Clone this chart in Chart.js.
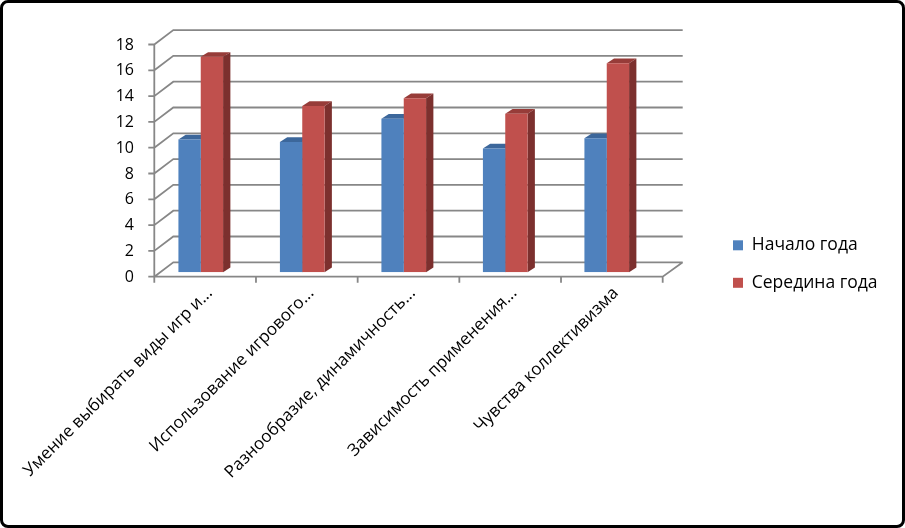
<!DOCTYPE html>
<html>
<head>
<meta charset="utf-8">
<title>Начало и середина года</title>
<script src="https://cdn.jsdelivr.net/npm/chart.js"></script>
<style>
    body { margin: 0; background: #fff; }
    #wrap { position: relative; width: 905px; height: 528px; }
    #chart { position: absolute; left: 0; top: 0; }
    #frame {
        position: absolute; left: 0; top: 0; width: 905px; height: 528px;
        box-sizing: border-box; border: 3px solid #000; border-radius: 8px;
        pointer-events: none;
    }
</style>
</head>
<body>
<div id="wrap">
    <canvas id="chart" width="905" height="528"></canvas>
    <div id="frame"></div>
</div>

<script>
    // данные
    const categories = [
        'Умение выбирать виды игр и...',
        'Использование игрового...',
        'Разнообразие, динамичность...',
        'Зависимость применения...',
        'Чувства коллективизма'
    ];
    const seriesNames = ['Начало года', 'Середина года'];
    const startYear = [10.3, 10.1, 11.9, 9.6, 10.4];
    const midYear = [16.7, 12.9, 13.5, 12.3, 16.2];
    const yTicks = [0, 2, 4, 6, 8, 10, 12, 14, 16, 18];

    Chart.defaults.font.family = "'Open Sans', sans-serif";
    Chart.defaults.color = '#000';

    // псевдо-3D: стены, сетка и грани столбиков
    const fake3d = {
        id: 'fake3d',
        beforeInit(chart) {
            const fit = chart.legend.fit;
            chart.legend.fit = function () {
                fit.call(this);
                this.width = 192;
            };
        },
        beforeDatasetsDraw(chart) {
            const ctx = chart.ctx;
            const a = chart.chartArea;
            const y = chart.scales.y;
            const fl = a.left + 4.3, fr = a.right + 5.2;
            const bl = fl + 19, br = fr + 20;
            const fy = v => y.getPixelForValue(v) + 4.4;
            const by = v => y.getPixelForValue(v) - 10;

            ctx.save();
            ctx.strokeStyle = '#878787';
            ctx.lineWidth = 1.8;
            ctx.beginPath();
            yTicks.forEach(v => {
                ctx.moveTo(fl, fy(v));
                ctx.lineTo(bl, by(v));
                ctx.lineTo(br, by(v));
                ctx.moveTo(fl - 6, fy(v));
                ctx.lineTo(fl, fy(v));
            });
            ctx.moveTo(fl, fy(yTicks[yTicks.length - 1]));
            ctx.lineTo(fl, fy(0));
            ctx.lineTo(fr, fy(0));
            ctx.lineTo(br, by(0));
            for (let i = 0; i <= categories.length; i++) {
                const x = fl + i * (fr - fl) / categories.length;
                ctx.moveTo(x, fy(0));
                ctx.lineTo(x, fy(0) + 6);
            }
            ctx.stroke();

            // верх и бок столбиков
            const dx = 7.3, dy = 4.7;
            const tops = ['#3c679b', '#973c39'];
            const sides = ['#345a88', '#7c302e'];
            chart.data.datasets.forEach((ds, i) => {
                chart.getDatasetMeta(i).data.forEach(bar => {
                    const l = bar.x - bar.width / 2, r = bar.x + bar.width / 2;
                    ctx.fillStyle = tops[i];
                    ctx.beginPath();
                    ctx.moveTo(l, bar.y);
                    ctx.lineTo(l + dx, bar.y - dy);
                    ctx.lineTo(r + dx, bar.y - dy);
                    ctx.lineTo(r, bar.y);
                    ctx.closePath();
                    ctx.fill();
                    ctx.fillStyle = sides[i];
                    ctx.beginPath();
                    ctx.moveTo(r, bar.y);
                    ctx.lineTo(r + dx, bar.y - dy);
                    ctx.lineTo(r + dx, bar.base - dy);
                    ctx.lineTo(r, bar.base);
                    ctx.closePath();
                    ctx.fill();
                });
            });
            ctx.restore();
        }
    };

    const ctx = document.getElementById('chart').getContext('2d');
    const chart = new Chart(ctx, {
        type: 'bar',
        data: {
            labels: categories,
            datasets: [{
                label: seriesNames[0],
                data: startYear,
                backgroundColor: '#4f81bd'
            }, {
                label: seriesNames[1],
                data: midYear,
                backgroundColor: '#c0504d'
            }]
        },
        options: {
            responsive: false,
            animation: false,
            devicePixelRatio: 1,
            layout: { padding: { top: 40.1, bottom: 40, left: 4, right: 0 } },
            datasets: {
                bar: { barPercentage: 1, categoryPercentage: 0.44 }
            },
            plugins: {
                tooltip: { enabled: false },
                legend: {
                    position: 'right',
                    labels: {
                        boxWidth: 10,
                        boxHeight: 10,
                        padding: 20,
                        font: { size: 17.5 }
                    }
                }
            },
            scales: {
                x: {
                    grid: { display: false },
                    border: { display: false },
                    ticks: {
                        autoSkip: false,
                        minRotation: 45,
                        maxRotation: 45,
                        labelOffset: 9,
                        font: { size: 17 }
                    },
                    afterFit(s) {
                        s.height = 528 - 40 - 272.3;
                        s.paddingLeft = 0;
                        s.paddingRight = 0;
                    }
                },
                y: {
                    min: 0,
                    max: 18,
                    grid: { display: false, drawTicks: false },
                    border: { display: false },
                    ticks: { padding: 16, labelOffset: 5, font: { size: 16 } },
                    afterBuildTicks(s) {
                        s.ticks = yTicks.map(v => ({ value: v }));
                    },
                    afterFit(s) { s.width = 146; }
                },
                yR: {
                    position: 'right',
                    min: 0,
                    max: 18,
                    grid: { display: false, drawTicks: false },
                    border: { display: false },
                    ticks: { display: false },
                    afterFit(s) { s.width = 713 - 657.5; }
                }
            }
        },
        plugins: [fake3d]
    });
</script>
</body>
</html>
